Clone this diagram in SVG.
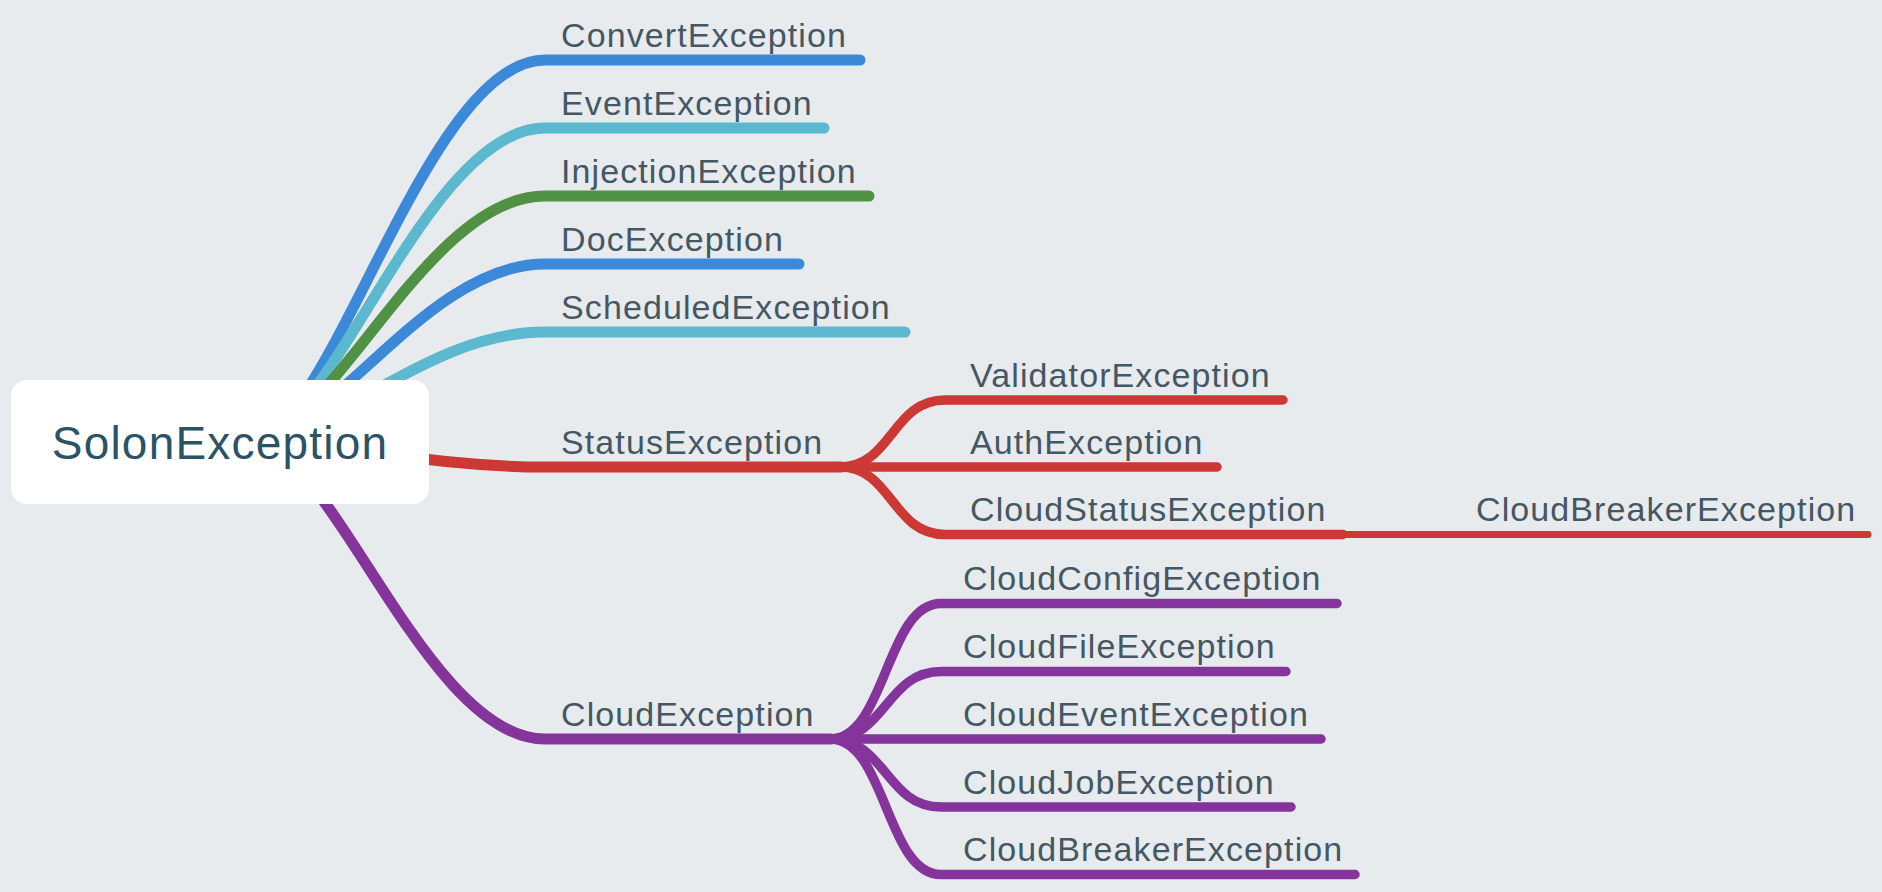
<svg xmlns="http://www.w3.org/2000/svg" width="1882" height="892" viewBox="0 0 1882 892">
<style>
.bg{fill:#e7ebee}
.l{fill:none;stroke-linecap:round;stroke-linejoin:round}
.d1{stroke-width:11}
.d2{stroke-width:9.5}
.d3{stroke-width:7}
.blue{stroke:#3b89d8}
.cyan{stroke:#5bb8cf}
.green{stroke:#509144}
.red{stroke:#cc3834}
.purple{stroke:#85349b}
.t{font-family:"Liberation Sans",Arial,Helvetica,sans-serif;font-size:34px;letter-spacing:1.1px;fill:#465764}
.rt{font-family:"Liberation Sans",Arial,Helvetica,sans-serif;font-size:46px;letter-spacing:1.2px;fill:#2b5366}
.box{fill:#ffffff}
</style>
<rect class="bg" x="0" y="0" width="1882" height="892"/>
<g id="connectors">
<path class="l d1 blue" d="M250,440 C330,440 425,60 545,60 H860"/>
<path class="l d1 cyan" d="M250,440 C330,440 425,128 545,128 H824"/>
<path class="l d1 green" d="M250,440 C330,440 425,196 545,196 H869"/>
<path class="l d1 blue" d="M250,440 C330,440 425,264 545,264 H799"/>
<path class="l d1 cyan" d="M250,440 C330,440 425,332 545,332 H905"/>
<path class="l d1 red" d="M250,440 C330,440 425,467 545,467 H841"/>
<path class="l d1 purple" d="M250,440 C330,440 425,739 545,739 H831"/>
<path class="l d2 red" d="M840,467 C892,467 892,400 945,400 H1283"/>
<path class="l d2 red" d="M840,467 H1217"/>
<path class="l d2 red" d="M840,467 C892,467 892,534.5 945,534.5 H1343"/>
<path class="l d3 red" d="M1343,534.5 H1868"/>
<path class="l d2 purple" d="M830,739 C886,739 886,603.5 941,603.5 H1337"/>
<path class="l d2 purple" d="M830,739 C886,739 886,671.5 941,671.5 H1286"/>
<path class="l d2 purple" d="M830,739 H1321"/>
<path class="l d2 purple" d="M830,739 C886,739 886,807 941,807 H1291"/>
<path class="l d2 purple" d="M830,739 C886,739 886,874.5 941,874.5 H1355"/>
</g>
<g id="root">
<rect class="box" x="11" y="380" width="418" height="124" rx="16"/>
<text class="rt" x="220" y="459" text-anchor="middle">SolonException</text>
</g>
<g id="convert"><text class="t" x="561" y="46.5">ConvertException</text></g>
<g id="event"><text class="t" x="561" y="114.5">EventException</text></g>
<g id="injection"><text class="t" x="561" y="182.5">InjectionException</text></g>
<g id="doc"><text class="t" x="561" y="250.5">DocException</text></g>
<g id="scheduled"><text class="t" x="561" y="318.5">ScheduledException</text></g>
<g id="status"><text class="t" x="561" y="453.5">StatusException</text></g>
<g id="cloud"><text class="t" x="561" y="725.5">CloudException</text></g>
<g id="validator"><text class="t" x="970" y="386.5">ValidatorException</text></g>
<g id="auth"><text class="t" x="970" y="453.5">AuthException</text></g>
<g id="cloudstatus"><text class="t" x="970" y="521">CloudStatusException</text></g>
<g id="cloudstatusbreaker"><text class="t" x="1476" y="521">CloudBreakerException</text></g>
<g id="cloudconfig"><text class="t" x="963" y="590">CloudConfigException</text></g>
<g id="cloudfile"><text class="t" x="963" y="658">CloudFileException</text></g>
<g id="cloudevent"><text class="t" x="963" y="726">CloudEventException</text></g>
<g id="cloudjob"><text class="t" x="963" y="793.5">CloudJobException</text></g>
<g id="cloudbreaker"><text class="t" x="963" y="861">CloudBreakerException</text></g>
</svg>
